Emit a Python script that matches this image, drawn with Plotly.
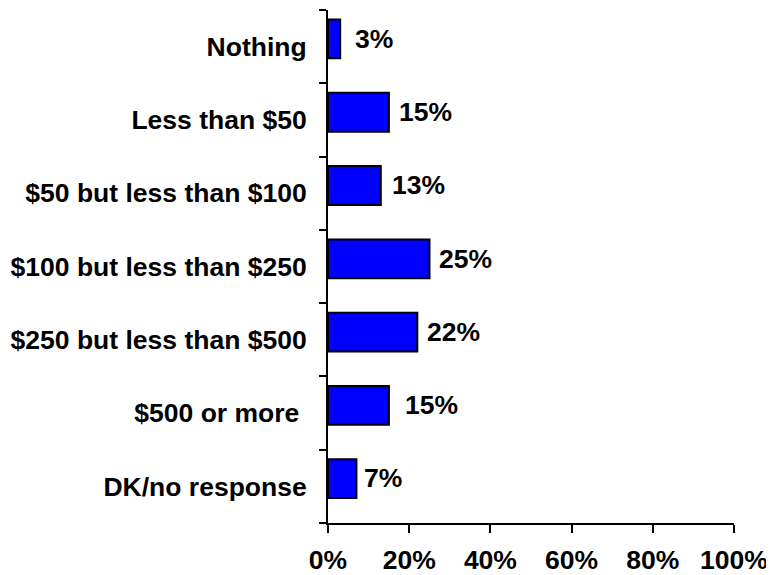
import plotly.graph_objects as go

categories = ["Nothing", "Less than $50", "$50 but less than $100", "$100 but less than $250",
              "$250 but less than $500", "$500 or more\u00a0", "DK/no response"]
values = [0.03, 0.15, 0.13, 0.25, 0.22, 0.15, 0.07]
value_labels = ["3%", "15%", "13%", "25%", "22%", "15%", "7%"]
x_ticks = [0, 0.2, 0.4, 0.6, 0.8, 1.0]
x_tick_labels = ["0%", "20%", "40%", "60%", "80%", "100%"]

# style: pixel gap between each bar end and its value label
label_gaps = [13, 8, 9, 7, 8, 14, 6]

FONT = "Liberation Sans, Arial, sans-serif"
FS = 26.5
BAR_W = 0.53
BAR_SHIFT = 0.105  # bars sit slightly above category centre

fig = go.Figure()
fig.add_trace(go.Bar(
    x=values, y=categories, orientation="h",
    width=BAR_W, offset=-BAR_W / 2 - BAR_SHIFT,
    marker=dict(color="#0000FF", line=dict(color="black", width=2)),
    hoverinfo="skip",
))

for v, c, t, g in zip(values, categories, value_labels, label_gaps):
    fig.add_annotation(x=v, y=c, text="<b>%s</b>" % t, showarrow=False,
                       xanchor="left", yanchor="middle", xshift=g, yshift=8,
                       font=dict(family=FONT, size=FS, color="black"))

fig.update_layout(
    width=774, height=575,
    margin=dict(l=320, r=48, t=2, b=60, autoexpand=False),
    paper_bgcolor="white", plot_bgcolor="white",
    showlegend=False,
    font=dict(family=FONT, size=FS, color="black"),
    xaxis=dict(range=[0, 1], tickvals=x_ticks,
               ticktext=["<b>%s</b>" % s for s in x_tick_labels],
               showgrid=False, zeroline=False, showline=True, linecolor="black", linewidth=2,
               ticks="outside", ticklen=8, tickwidth=2, tickcolor="black",
               ticklabelstandoff=4, automargin=False,
               tickfont=dict(family=FONT, size=FS, color="black"), fixedrange=True),
    yaxis=dict(categoryorder="array", categoryarray=categories, autorange="reversed",
               tickvals=categories,
               ticktext=["<b>%s</b>" % s for s in categories],
               tickson="boundaries",
               showgrid=False, zeroline=False, showline=True, linecolor="black", linewidth=2,
               ticks="outside", ticklen=7, tickwidth=2, tickcolor="black",
               ticklabelstandoff=14, automargin=False,
               tickfont=dict(family=FONT, size=FS, color="black"), fixedrange=True),
)

fig.write_html("out.html")
